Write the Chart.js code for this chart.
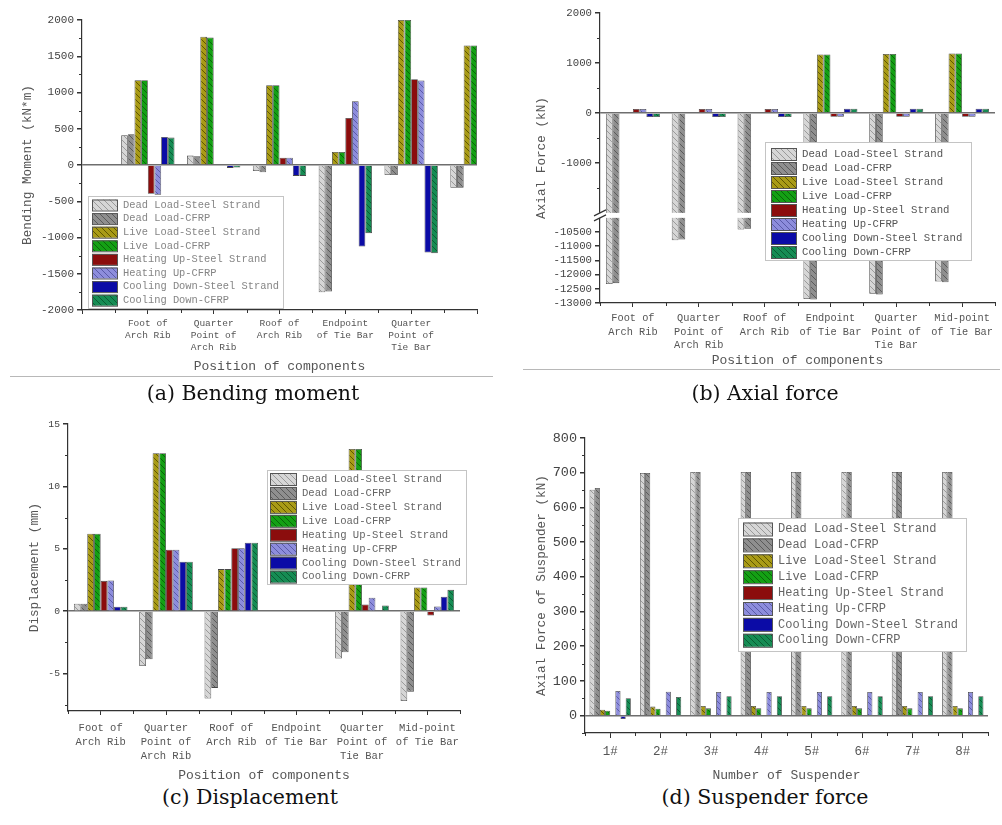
<!DOCTYPE html>
<html>
<head>
<meta charset="utf-8">
<title>Structural response charts</title>
<script src="https://cdn.jsdelivr.net/npm/chart.js@4.4.1/dist/chart.umd.min.js"></script>
<style>
  html, body { margin: 0; padding: 0; background: #fff; }
  body { position: relative; width: 1002px; height: 825px; overflow: hidden; }
  canvas { position: absolute; }
  .cap { position: absolute; width: 400px; text-align: center; font-family: "DejaVu Serif", serif; font-size: 20.5px; line-height: 24px; color: #111; }
  .rule { position: absolute; height: 0; border-top: 1px solid #b8b8b8; }
</style>
</head>
<body>
<canvas id="chartMoment" width="500" height="376" style="left:0;top:0"></canvas>
<canvas id="chartAxial" width="502" height="370" style="left:500px;top:0"></canvas>
<canvas id="chartDisp" width="500" height="385" style="left:0;top:400px"></canvas>
<canvas id="chartSusp" width="502" height="385" style="left:500px;top:400px"></canvas>
<div class="rule" style="left:10px;top:376px;width:483px"></div>
<div class="rule" style="left:523px;top:369px;width:477px"></div>
<div class="cap" style="left:53px;top:381px">(a) Bending moment</div>
<div class="cap" style="left:565px;top:381px">(b) Axial force</div>
<div class="cap" style="left:50px;top:785px">(c) Displacement</div>
<div class="cap" style="left:565px;top:785px">(d) Suspender force</div>
<script>
const seriesNames = ['Dead Load-Steel Strand', 'Dead Load-CFRP', 'Live Load-Steel Strand', 'Live Load-CFRP',
    'Heating Up-Steel Strand', 'Heating Up-CFRP', 'Cooling Down-Steel Strand', 'Cooling Down-CFRP'];
const positions = [['Foot of', 'Arch Rib'], ['Quarter', 'Point of', 'Arch Rib'], ['Roof of', 'Arch Rib'],
    ['Endpoint', 'of Tie Bar'], ['Quarter', 'Point of', 'Tie Bar'], ['Mid-point', 'of Tie Bar']];
const suspenders = ['1#', '2#', '3#', '4#', '5#', '6#', '7#', '8#'];

// (a) bending moment, kN*m  (mid-point thermal bars fall outside the plotted range)
const momentDeadSteel = [410, 130, -83, -1755, -138, -313];
const momentDeadCfrp = [424, 120, -100, -1746, -138, -313];
const momentLiveSteel = [1170, 1770, 1100, 180, 2000, 1650];
const momentLiveCfrp = [1170, 1760, 1100, 180, 2000, 1650];
const momentHeatSteel = [-396, 0, 100, 650, 1184, null];
const momentHeatCfrp = [-410, 0, 100, 880, 1166, null];
const momentCoolSteel = [387, -40, -150, -1124, -1207, null];
const momentCoolCfrp = [378, -35, -150, -940, -1216, null];
const momentTicksMinor = [-1750, -1250, -750, -250, 250, 750, 1250, 1750];

// (b) axial force, kN
const axialDeadSteel = [-12330, -10790, -10410, -12860, -12670, -12240];
const axialDeadCfrp = [-12300, -10760, -10380, -12880, -12700, -12270];
const axialLiveSteel = [0, 0, 0, 1170, 1180, 1190];
const axialLiveCfrp = [0, 0, 0, 1170, 1180, 1190];
const axialHeatSteel = [80, 80, 80, -75, -75, -75];
const axialHeatCfrp = [80, 80, 80, -75, -75, -75];
const axialCoolSteel = [-80, -80, -80, 85, 85, 85];
const axialCoolCfrp = [-80, -80, -80, 85, 85, 85];
const axialTicks = [2000, 1000, 0, -1000, -10500, -11000, -11500, -12000, -12500, -13000];
const axialTicksMinor = [1500, 500, -500, -1500];

// (c) displacement, mm
const dispDeadSteel = [0.6, -4.4, -7.0, 0, -3.8, -7.2];
const dispDeadCfrp = [0.6, -3.85, -6.15, 0, -3.3, -6.45];
const dispLiveSteel = [6.2, 12.65, 3.37, 0, 13.0, 1.9];
const dispLiveCfrp = [6.2, 12.65, 3.37, 0, 13.0, 1.9];
const dispHeatSteel = [2.43, 4.92, 5.05, 0, 0.53, -0.35];
const dispHeatCfrp = [2.46, 4.92, 5.05, 0, 1.07, 0.37];
const dispCoolSteel = [0.35, 3.96, 5.48, 0, 0, 1.15];
const dispCoolCfrp = [0.35, 3.96, 5.48, 0, 0.45, 1.71];
const dispTicksMinor = [12.5, 7.5, 2.5, -2.5, -7.5];

// (d) suspender axial force, kN
const suspDeadSteel = [651, 699, 702, 702, 702, 702, 702, 702];
const suspDeadCfrp = [656, 699, 702, 702, 702, 702, 702, 702];
const suspLiveSteel = [17, 26, 28, 28, 28, 28, 28, 28];
const suspLiveCfrp = [14, 20, 21, 21, 21, 21, 21, 21];
const suspHeatSteel = [0, 0, 0, 0, 0, 0, 0, 0];
const suspHeatCfrp = [71, 69, 68, 68, 68, 68, 68, 68];
const suspCoolSteel = [-10, -2, 0, 0, 0, 0, 0, 0];
const suspCoolCfrp = [50, 54, 56, 56, 56, 56, 56, 56];
const suspTicksMinor = [750, 650, 550, 450, 350, 250, 150, 50, -50];

Chart.defaults.font.family = '"Liberation Mono", monospace';
Chart.defaults.color = '#444';

function hatch(bg, line) {
    if (!line) return bg;
    const s = 6;
    const c = document.createElement('canvas');
    c.width = s; c.height = s;
    const g = c.getContext('2d');
    g.fillStyle = bg; g.fillRect(0, 0, s, s);
    g.strokeStyle = line; g.lineWidth = 1;
    g.beginPath();
    for (const k of [-s, 0, s]) { g.moveTo(k, 0); g.lineTo(k + s, s); }
    g.stroke();
    return g.createPattern(c, 'repeat');
}

const seriesFills = [
    hatch('#d6d6d6', '#9a9a9a'), hatch('#8f8f8f', '#5a5a5a'),
    hatch('#a99b16', '#5f5600'), hatch('#14a014', '#0a640a'),
    '#8b0d0d', hatch('#8d8ddc', '#5a5aa8'),
    '#0b0ba6', hatch('#168c54', '#0a5c33')
];

// y scale with a cut between -2000 and -10000 (axial force panel)
const axialBreak = { upper: -2000, lower: -10000, gap: 100, ratio: 0.568 };
class BrokenScale extends Chart.LinearScale {
    fold(v) {
        const b = axialBreak;
        if (v >= b.upper) return v;
        if (v <= b.lower) return b.upper - b.gap + (v - b.lower) * b.ratio;
        return b.upper - (b.upper - v) / (b.upper - b.lower) * b.gap;
    }
    getPixelForValue(value) {
        const lo = this.fold(this.min), hi = this.fold(this.max);
        return this.getPixelForDecimal((this.fold(value) - lo) / (hi - lo));
    }
}
BrokenScale.id = 'broken';
BrokenScale.defaults = Chart.LinearScale.defaults;
Chart.register(BrokenScale);

// minor ticks, axis cut and the boxed legend inside the plot
const decor = {
    id: 'decor',
    afterDatasetsDraw(chart, args, opts) {
        const ctx = chart.ctx, area = chart.chartArea;
        const x = chart.scales.x, y = chart.scales.y;
        ctx.save();
        ctx.strokeStyle = '#333'; ctx.lineWidth = 1;
        (opts.minor || []).forEach(v => {
            const p = Math.round(y.getPixelForValue(v)) + 0.5;
            ctx.beginPath(); ctx.moveTo(area.left - 3, p); ctx.lineTo(area.left, p); ctx.stroke();
        });
        const n = chart.data.labels.length;
        const first = opts.edge ? 0.5 : -0.5;
        for (let i = first; i <= n - 0.5; i += 1) {
            const p = Math.round(x.getPixelForValue(i)) + 0.5;
            if (p < area.left - 1 || p > area.right + 1) continue;
            ctx.beginPath(); ctx.moveTo(p, area.bottom); ctx.lineTo(p, area.bottom + 3); ctx.stroke();
        }
        if (opts.cut) {
            const top = y.getPixelForValue(axialBreak.upper), bot = y.getPixelForValue(axialBreak.lower);
            ctx.fillStyle = '#fff';
            ctx.fillRect(area.left - 8, top, area.right - area.left + 8, bot - top);
            ctx.strokeStyle = '#333'; ctx.lineWidth = 1.2;
            [top, bot].forEach(p => {
                ctx.beginPath(); ctx.moveTo(area.left - 6, p + 3); ctx.lineTo(area.left + 6, p - 3); ctx.stroke();
            });
        }
        const L = opts.legend;
        if (L) {
            ctx.fillStyle = '#fff'; ctx.fillRect(L.x, L.y, L.w, L.h);
            ctx.strokeStyle = '#c4c4c4'; ctx.lineWidth = 1;
            ctx.strokeRect(L.x + 0.5, L.y + 0.5, L.w, L.h);
            ctx.font = L.size + 'px "Liberation Mono", monospace';
            ctx.textBaseline = 'middle';
            chart.data.datasets.forEach((ds, i) => {
                const cy = L.y + L.first + i * L.rowH;
                ctx.fillStyle = ds.backgroundColor;
                ctx.fillRect(L.x + L.swX, cy - L.swH / 2, L.swW, L.swH);
                ctx.strokeStyle = '#555';
                ctx.strokeRect(L.x + L.swX + 0.5, cy - L.swH / 2 + 0.5, L.swW, L.swH);
                ctx.fillStyle = L.color;
                ctx.fillText(ds.label, L.x + L.txX, cy);
            });
        }
        ctx.restore();
    }
};

function barChart(id, labels, lists, cfg) {
    return new Chart(document.getElementById(id), {
        type: 'bar',
        data: {
            labels,
            datasets: seriesNames.map((name, i) => ({
                label: name,
                data: lists[i],
                backgroundColor: seriesFills[i],
                borderColor: '#474747',
                borderWidth: 0.8,
                categoryPercentage: cfg.groupWidth,
                barPercentage: 1
            }))
        },
        options: {
            responsive: false,
            animation: false,
            devicePixelRatio: 1,
            layout: { padding: cfg.padding },
            plugins: {
                legend: { display: false },
                tooltip: { enabled: false },
                decor: { minor: cfg.minor, cut: cfg.cut, edge: cfg.edge, legend: cfg.legend }
            },
            scales: {
                x: {
                    offset: !cfg.edge,
                    afterFit: s => { s.height = cfg.xHeight; },
                    border: { color: '#333', width: 1.2 },
                    grid: { drawOnChartArea: false, offset: false, tickLength: cfg.xTick, tickColor: '#333' },
                    ticks: {
                        autoSkip: false, maxRotation: 0, minRotation: 0,
                        padding: cfg.xPad, color: '#555',
                        font: { size: cfg.xFont, lineHeight: cfg.xLine },
                        callback: cfg.xCallback || function (v) { return this.getLabelForValue(v); }
                    },
                    title: { display: true, text: cfg.xTitle, color: '#555', font: { size: 13 }, padding: { top: 0, bottom: 2 } }
                },
                y: {
                    type: cfg.yType || 'linear',
                    min: cfg.min, max: cfg.max,
                    afterFit: s => { s.width = cfg.yWidth; },
                    afterBuildTicks: cfg.yTicks ? (s => { s.ticks = cfg.yTicks.map(v => ({ value: v })); }) : undefined,
                    border: { color: '#333', width: 1.2 },
                    grid: {
                        color: c => (c.tick && c.tick.value === 0 ? '#6e6e6e' : 'rgba(0,0,0,0)'),
                        lineWidth: 1.5,
                        tickColor: '#333', tickLength: 5
                    },
                    ticks: {
                        stepSize: cfg.step, includeBounds: false, padding: 3, color: '#444',
                        font: { size: cfg.yFont },
                        callback: v => String(v)
                    },
                    title: { display: true, text: cfg.yTitle, color: '#555', font: { size: 12.7 }, padding: { top: cfg.yTitlePad, bottom: 0 } }
                }
            }
        },
        plugins: [decor]
    });
}

// (a) the axis starts one empty slot early and ends in the middle of the mid-point group
barChart('chartMoment', [''].concat(positions),
    [momentDeadSteel, momentDeadCfrp, momentLiveSteel, momentLiveCfrp,
        momentHeatSteel, momentHeatCfrp, momentCoolSteel, momentCoolCfrp].map(a => [null].concat(a)),
    {
        groupWidth: 0.81, edge: true, padding: { left: 0, top: 20, right: 23, bottom: 0 },
        xHeight: 66, xTick: 4, xPad: 3, xFont: 9.5, xLine: 1.3, xTitle: 'Position of components',
        xCallback: function (v, i, all) { return (i === 0 || i === all.length - 1) ? '' : this.getLabelForValue(v); },
        min: -2000, max: 2000, step: 500, yWidth: 82, yFont: 11, yTitle: 'Bending Moment (kN*m)', yTitlePad: 20,
        minor: momentTicksMinor,
        legend: { x: 88, y: 196, w: 195, h: 112, first: 9, rowH: 13.6, swX: 4, swW: 25, swH: 11, txX: 35, size: 10.4, color: '#858585' }
    });

barChart('chartAxial', positions,
    [axialDeadSteel, axialDeadCfrp, axialLiveSteel, axialLiveCfrp,
        axialHeatSteel, axialHeatCfrp, axialCoolSteel, axialCoolCfrp],
    {
        groupWidth: 0.82, padding: { left: 0, top: 13, right: 7, bottom: 0 },
        xHeight: 67, xTick: 4, xPad: 4, xFont: 10.3, xLine: 1.35, xTitle: 'Position of components',
        yType: 'broken', min: -13000, max: 2000, yTicks: axialTicks, yWidth: 100, yFont: 10.7,
        yTitle: 'Axial Force (kN)', yTitlePad: 34, minor: axialTicksMinor, cut: true,
        legend: { x: 265, y: 142, w: 206, h: 118, first: 12, rowH: 14, swX: 6, swW: 25, swH: 12, txX: 37, size: 10.7, color: '#555' }
    });

barChart('chartDisp', positions,
    [dispDeadSteel, dispDeadCfrp, dispLiveSteel, dispLiveCfrp,
        dispHeatSteel, dispHeatCfrp, dispCoolSteel, dispCoolCfrp],
    {
        groupWidth: 0.82, padding: { left: 0, top: 24, right: 40, bottom: 0 },
        xHeight: 74, xTick: 4, xPad: 6, xFont: 10.5, xLine: 1.35, xTitle: 'Position of components',
        min: -8, max: 15, step: 5, yWidth: 68, yFont: 9.7, yTitle: 'Displacement (mm)', yTitlePad: 27,
        minor: dispTicksMinor,
        legend: { x: 267, y: 70, w: 199, h: 114, first: 9, rowH: 13.95, swX: 3, swW: 26, swH: 12, txX: 35, size: 10.6, color: '#666' }
    });

barChart('chartSusp', suspenders,
    [suspDeadSteel, suspDeadCfrp, suspLiveSteel, suspLiveCfrp,
        suspHeatSteel, suspHeatCfrp, suspCoolSteel, suspCoolCfrp],
    {
        groupWidth: 0.82, padding: { left: 0, top: 38, right: 14, bottom: 0 },
        xHeight: 52, xTick: 5, xPad: 6, xFont: 12.5, xLine: 1.2, xTitle: 'Number of Suspender',
        min: -50, max: 800, step: 100, yWidth: 85, yFont: 13.5, yTitle: 'Axial Force of Suspender (kN)', yTitlePad: 34,
        minor: suspTicksMinor,
        legend: { x: 238, y: 118, w: 228, h: 133, first: 11, rowH: 15.9, swX: 5, swW: 29, swH: 13, txX: 40, size: 12, color: '#666' }
    });
</script>
</body>
</html>
